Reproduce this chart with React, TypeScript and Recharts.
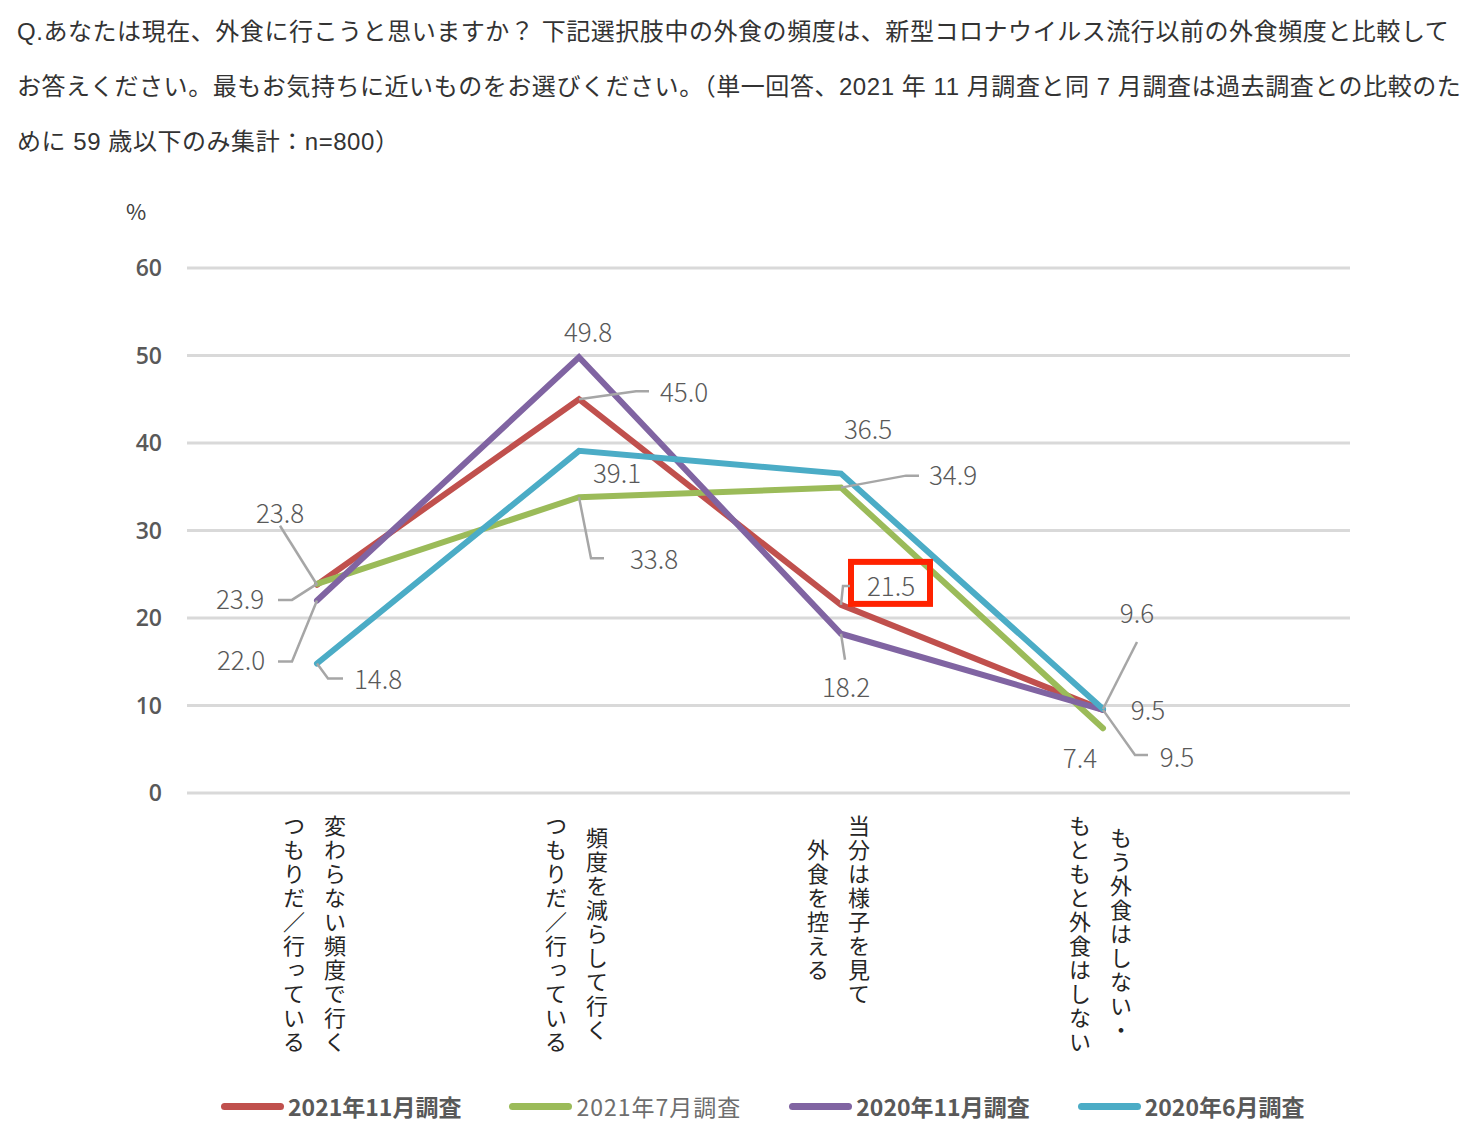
import {
  CartesianGrid,
  LabelList,
  Line,
  LineChart,
  ReferenceDot,
  XAxis,
  YAxis,
} from "recharts";

const FONT = "'Noto Sans CJK JP', 'Noto Sans', sans-serif";

const titleLines = [
  "Q.あなたは現在、外食に行こうと思いますか？ 下記選択肢中の外食の頻度は、新型コロナウイルス流行以前の外食頻度と比較して",
  "お答えください。最もお気持ちに近いものをお選びください。（単一回答、2021 年 11 月調査と同 7 月調査は過去調査との比較のた",
  "めに 59 歳以下のみ集計：n=800）",
];

// two-column vertical labels: first line is the right column
const categories = [
  "変わらない頻度で行く\nつもりだ／行っている",
  "頻度を減らして行く\nつもりだ／行っている",
  "当分は様子を見て\n外食を控える",
  "もう外食はしない・\nもともと外食はしない",
];

const nov2021 = [23.8, 45.0, 21.5, 9.5];
const jul2021 = [23.9, 33.8, 34.9, 7.4];
const nov2020 = [22.0, 49.8, 18.2, 9.5];
const jun2020 = [14.8, 39.1, 36.5, 9.6];

const seriesNames = ["2021年11月調査", "2021年7月調査", "2020年11月調査", "2020年6月調査"];

const yTicks = [0, 10, 20, 30, 40, 50, 60];

type Spot = { dx: number; dy: number; leader?: [number, number][] };

// label placement relative to each point, with optional leader lines
const redSpots: Spot[] = [
  { dx: -37, dy: -71, leader: [[-37, -59], [0, 0]] },
  { dx: 105, dy: -7, leader: [[0, 0], [57, -8], [70, -8]] },
  { dx: 50, dy: -18, leader: [[0, 0], [2, -19], [9, -19]] },
  { dx: 45, dy: 1 },
];
const greenSpots: Spot[] = [
  { dx: -77, dy: 16, leader: [[-39, 16], [-25, 16], [0, 0]] },
  { dx: 75, dy: 62, leader: [[0, 0], [12, 61], [25, 61]] },
  { dx: 112, dy: -12, leader: [[0, 0], [65, -12], [78, -12]] },
  { dx: -23, dy: 30 },
];
const purpleSpots: Spot[] = [
  { dx: -76, dy: 60, leader: [[-39, 61], [-25, 61], [0, 0]] },
  { dx: 9, dy: -25 },
  { dx: 5, dy: 54, leader: [[0, 0], [4, 26]] },
  { dx: 74, dy: 48, leader: [[0, 0], [32, 45], [45, 45]] },
];
const cyanSpots: Spot[] = [
  { dx: 61, dy: 16, leader: [[0, 0], [11, 15], [26, 15]] },
  { dx: 38, dy: 23 },
  { dx: 27, dy: -44 },
  { dx: 34, dy: -96, leader: [[0, 0], [34, -67]] },
];

const series = [
  { key: "s0", name: seriesNames[0], values: nov2021, color: "#C0504D", bold: true, spots: redSpots },
  { key: "s1", name: seriesNames[1], values: jul2021, color: "#9BBB59", bold: false, spots: greenSpots },
  { key: "s2", name: seriesNames[2], values: nov2020, color: "#8064A2", bold: true, spots: purpleSpots },
  { key: "s3", name: seriesNames[3], values: jun2020, color: "#4BACC6", bold: true, spots: cyanSpots },
];

const rows = categories.map((cat, i) => {
  const row: Record<string, string | number> = { cat };
  series.forEach((s) => {
    row[s.key] = s.values[i];
  });
  return row;
});

const makeLabel = (spots: Spot[]) => (props: any) => {
  const x = props.x ?? props.viewBox?.x;
  const y = props.y ?? props.viewBox?.y;
  const spot = spots[props.index];
  if (!spot || x == null || y == null) return null;
  return (
    <g>
      {spot.leader && (
        <polyline
          points={spot.leader.map(([a, b]) => `${x + a},${y + b}`).join(" ")}
          fill="none"
          stroke="#A6A6A6"
          strokeWidth={2.5}
        />
      )}
      <text
        x={x + spot.dx}
        y={y + spot.dy - 2}
        textAnchor="middle"
        dominantBaseline="central"
        fontSize={26}
        fontWeight={300}
        fill="#595959"
        fontFamily={FONT}
      >
        {Number(props.value).toFixed(1)}
      </text>
    </g>
  );
};

const CategoryTick = (props: any) => {
  const { x, y, payload } = props;
  const lines = String(payload.value).split("\n");
  const maxLen = Math.max(...lines.map((l) => [...l].length));
  const step = 24;
  const colX = [18, -23];
  return (
    <g>
      {lines.map((line, li) => (
        <text
          key={li}
          x={x + colX[li]}
          y={y + 21 + (maxLen * step) / 2 + 1}
          textAnchor="middle"
          fontSize={22}
          letterSpacing={2}
          fill="#262626"
          fontFamily={FONT}
          style={{ writingMode: "vertical-rl" }}
        >
          {line}
        </text>
      ))}
    </g>
  );
};

const HighlightBox = (props: any) => {
  const { cx, cy } = props;
  if (cx == null || cy == null) return <g />;
  return (
    <rect x={cx + 10} y={cy - 43} width={79} height={42} fill="none" stroke="#FF2200" strokeWidth={6} />
  );
};

export default function App() {
  return (
    <div
      style={{
        position: "absolute",
        left: 0,
        top: 0,
        width: 1467,
        height: 1130,
        background: "#fff",
        fontFamily: FONT,
      }}
    >
      <div style={{ position: "absolute", left: 0, top: 0 }}>
        <LineChart
          width={1467}
          height={1130}
          data={rows}
          margin={{ top: 268, right: 117, bottom: 37, left: 127 }}
        >
          <CartesianGrid horizontal vertical={false} stroke="#D9D9D9" strokeWidth={3} />
          <XAxis
            dataKey="cat"
            type="category"
            padding={{ left: 130, right: 247 }}
            axisLine={false}
            tickLine={false}
            tickSize={0}
            tickMargin={0}
            height={300}
            interval={0}
            tick={<CategoryTick />}
          />
          <YAxis
            domain={[0, 60]}
            ticks={yTicks}
            width={60}
            axisLine={false}
            tickLine={false}
            tickSize={0}
            tickMargin={25}
            tick={{ fontSize: 23, fill: "#595959", fontFamily: "'Open Sans', sans-serif", fontWeight: 600 }}
          />
          {series.map((s) => (
            <Line
              key={s.key}
              dataKey={s.key}
              name={s.name}
              stroke={s.color}
              strokeWidth={6}
              strokeLinecap="round"
              dot={false}
              activeDot={false}
              isAnimationActive={false}
            >
              <LabelList dataKey={s.key} content={makeLabel(s.spots)} />
            </Line>
          ))}
          <ReferenceDot
            x={categories[2]}
            y={nov2021[2]}
            r={0}
            ifOverflow="visible"
            shape={<HighlightBox />}
          />
        </LineChart>
      </div>

      <div style={{ position: "absolute", left: 17, top: 4, color: "#333" }}>
        {titleLines.map((line) => (
          <div
            key={line}
            style={{
              height: 55,
              lineHeight: "55px",
              fontSize: 24,
              letterSpacing: "0.55px",
              whiteSpace: "nowrap",
              fontFamily: "'Liberation Sans', " + FONT,
            }}
          >
            {line}
          </div>
        ))}
      </div>

      <div style={{ position: "absolute", left: 126, top: 194, fontSize: 22, color: "#404040" }}>%</div>

      <div
        style={{
          position: "absolute",
          left: 221,
          top: 1092,
          height: 28,
          display: "flex",
          alignItems: "center",
          gap: 48,
        }}
      >
        {series.map((s) => (
          <div key={s.key} style={{ display: "flex", alignItems: "center" }}>
            <div style={{ width: 63, height: 7, borderRadius: 4, background: s.color }} />
            <span
              style={{
                marginLeft: 4,
                fontSize: 23,
                lineHeight: "28px",
                color: s.bold ? "#595959" : "#6E6E6E",
                fontWeight: s.bold ? 700 : 400,
                letterSpacing: s.bold ? 0 : 1,
                whiteSpace: "nowrap",
              }}
            >
              {s.name}
            </span>
          </div>
        ))}
      </div>
    </div>
  );
}
